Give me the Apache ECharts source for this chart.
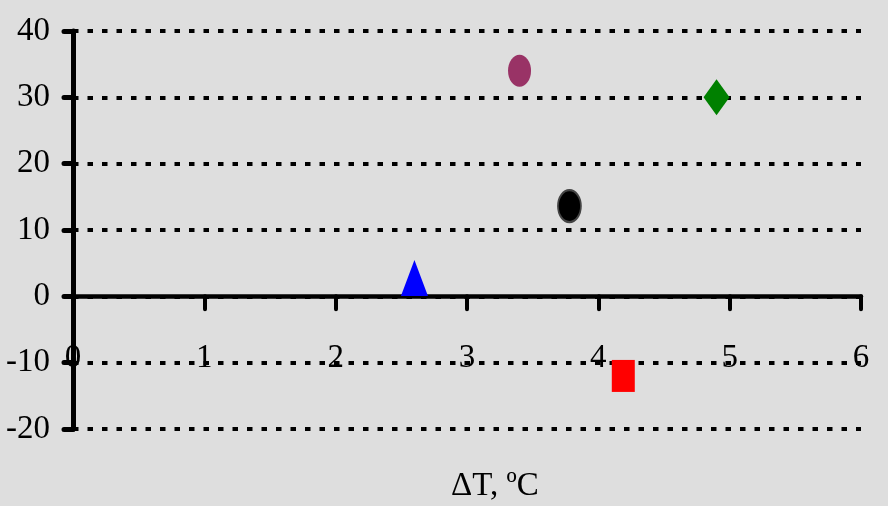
<!DOCTYPE html>
<html>
<head>
<meta charset="utf-8">
<script src="https://cdn.jsdelivr.net/npm/echarts@6/dist/echarts.min.js"></script>
<style>
html,body{margin:0;padding:0;background:#dedede;}
#c{width:888px;height:506px;}
</style>
</head>
<body>
<div id="c"></div>
<script>
// Data
const xTicks = [0, 1, 2, 3, 4, 5, 6];
const yTicks = [-20, -10, 0, 10, 20, 30, 40];
const pointNames = ['A', 'B', 'C', 'D', 'E'];
const xValues = [3.40, 3.78, 2.60, 4.90, 4.19];
const yValues = [34.0, 13.6, 2.75, 30.0, -12.0];
const axisTitle = 'ΔT, ºC';

// Styles (not data)
const ellipse = 'path://M0,-1A1,1 0 1,1 0,1A1,1 0 1,1 0,-1Z';
const styles = [
  {symbol: ellipse, size: [23, 32], color: '#993366', border: null},
  {symbol: ellipse, size: [23, 32], color: '#000000', border: '#444444'},
  {symbol: 'triangle', size: [27, 36], color: '#0000ff', border: null},
  {symbol: 'diamond', size: [26, 36], color: '#008000', border: null},
  {symbol: 'rect', size: [23, 32], color: '#ff0000', border: null}
];

const serif = '"Liberation Serif", "Times New Roman", serif';

const series = pointNames.map((n, i) => ({
  name: n,
  type: 'scatter',
  symbol: styles[i].symbol,
  symbolSize: styles[i].size,
  data: [[xValues[i], yValues[i]]],
  itemStyle: {
    color: styles[i].color,
    borderColor: styles[i].border || styles[i].color,
    borderWidth: styles[i].border ? 2 : 0,
    opacity: 1
  },
  emphasis: {disabled: true},
  z: 5
}));

const chart = echarts.init(document.getElementById('c'), null, {renderer: 'canvas'});
chart.setOption({
  backgroundColor: '#dedede',
  animation: false,
  title: {
    text: axisTitle,
    left: 446,
    top: 465,
    textStyle: {fontFamily: serif, fontSize: 33, fontWeight: 'normal', color: '#000'}
  },
  grid: {left: 73, right: 27, top: 31, bottom: 77, containLabel: false},
  xAxis: {
    type: 'value',
    min: xTicks[0],
    max: xTicks[xTicks.length - 1],
    interval: 1,
    axisLine: {show: true, onZero: true, lineStyle: {color: '#000', width: 4.5, cap: 'round'}},
    axisTick: {show: true, inside: false, length: 13, lineStyle: {color: '#000', width: 4, cap: 'round'}},
    axisLabel: {
      margin: -87,
      fontFamily: serif,
      fontSize: 33,
      color: '#000',
      showMinLabel: true,
      showMaxLabel: true
    },
    splitLine: {show: false}
  },
  yAxis: {
    type: 'value',
    min: yTicks[0],
    max: yTicks[yTicks.length - 1],
    interval: 10,
    axisLine: {show: true, onZero: false, lineStyle: {color: '#000', width: 5, cap: 'round'}},
    axisTick: {show: true, length: 9, lineStyle: {color: '#000', width: 5, cap: 'round'}},
    axisLabel: {
      margin: 23,
      fontFamily: serif,
      fontSize: 33,
      color: '#000'
    },
    splitLine: {
      show: true,
      lineStyle: {color: '#000', width: 4, type: [5.5, 9]}
    }
  },
  series: series
});
</script>
</body>
</html>
